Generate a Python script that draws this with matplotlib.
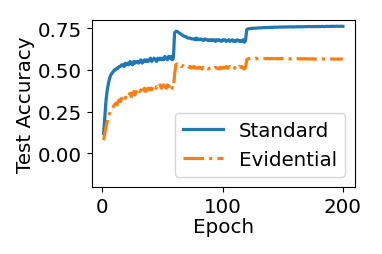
import matplotlib
matplotlib.use('Agg')
import matplotlib.pyplot as plt

epochs = list(range(1, 201))

# test accuracy of the standard model, one value per epoch
standard = [
    0.12, 0.22, 0.32, 0.38, 0.42, 0.45, 0.47, 0.48, 0.49, 0.50,
    0.50, 0.51, 0.51, 0.52, 0.52, 0.53, 0.53, 0.52, 0.54, 0.53,
    0.54, 0.53, 0.55, 0.54, 0.53, 0.55, 0.54, 0.55, 0.55, 0.54,
    0.55, 0.56, 0.54, 0.55, 0.56, 0.55, 0.56, 0.55, 0.56, 0.57,
    0.55, 0.56, 0.57, 0.56, 0.55, 0.57, 0.56, 0.57, 0.56, 0.57,
    0.56, 0.58, 0.57, 0.56, 0.58, 0.57, 0.58, 0.56, 0.57, 0.72,
    0.73, 0.73, 0.725, 0.72, 0.715, 0.71, 0.705, 0.70, 0.70, 0.695,
    0.69, 0.69, 0.69, 0.685, 0.685, 0.685, 0.68, 0.69, 0.68, 0.685,
    0.68, 0.685, 0.68, 0.675, 0.685, 0.68, 0.68, 0.675, 0.68, 0.675,
    0.68, 0.675, 0.68, 0.67, 0.68, 0.675, 0.68, 0.675, 0.67, 0.68,
    0.675, 0.68, 0.67, 0.675, 0.68, 0.67, 0.675, 0.68, 0.67, 0.675,
    0.67, 0.68, 0.675, 0.67, 0.675, 0.67, 0.68, 0.665, 0.675, 0.74,
    0.745, 0.746, 0.747, 0.748, 0.748, 0.749, 0.749, 0.750, 0.750, 0.751,
    0.751, 0.751, 0.752, 0.752, 0.752, 0.753, 0.753, 0.753, 0.754, 0.754,
    0.754, 0.754, 0.755, 0.755, 0.755, 0.755, 0.756, 0.755, 0.756, 0.756,
    0.756, 0.756, 0.757, 0.756, 0.757, 0.757, 0.757, 0.756, 0.757, 0.757,
    0.757, 0.758, 0.757, 0.758, 0.758, 0.757, 0.758, 0.758, 0.758, 0.758,
    0.758, 0.759, 0.758, 0.758, 0.759, 0.759, 0.758, 0.759, 0.759, 0.759,
    0.759, 0.759, 0.760, 0.759, 0.759, 0.760, 0.760, 0.759, 0.760, 0.760,
    0.760, 0.760, 0.760, 0.760, 0.761, 0.760, 0.760, 0.761, 0.760, 0.760,
]

# test accuracy of the evidential model
evidential = [
    0.08, 0.12, 0.16, 0.19, 0.22, 0.24, 0.26, 0.27, 0.28, 0.29,
    0.30, 0.29, 0.31, 0.32, 0.31, 0.33, 0.32, 0.34, 0.33, 0.35,
    0.34, 0.35, 0.36, 0.34, 0.36, 0.37, 0.35, 0.37, 0.36, 0.38,
    0.37, 0.38, 0.36, 0.38, 0.39, 0.37, 0.38, 0.39, 0.38, 0.39,
    0.38, 0.40, 0.39, 0.38, 0.40, 0.39, 0.40, 0.41, 0.39, 0.40,
    0.41, 0.40, 0.39, 0.41, 0.40, 0.42, 0.41, 0.39, 0.39, 0.47,
    0.53, 0.535, 0.53, 0.525, 0.53, 0.52, 0.525, 0.52, 0.52, 0.515,
    0.52, 0.515, 0.52, 0.51, 0.515, 0.52, 0.51, 0.515, 0.51, 0.51,
    0.515, 0.51, 0.505, 0.515, 0.51, 0.51, 0.515, 0.505, 0.51, 0.515,
    0.51, 0.505, 0.51, 0.515, 0.51, 0.51, 0.505, 0.515, 0.51, 0.51,
    0.515, 0.51, 0.52, 0.51, 0.515, 0.52, 0.51, 0.515, 0.52, 0.51,
    0.52, 0.515, 0.51, 0.52, 0.515, 0.52, 0.51, 0.505, 0.515, 0.56,
    0.565, 0.568, 0.567, 0.568, 0.566, 0.568, 0.567, 0.569, 0.566, 0.567,
    0.568, 0.566, 0.567, 0.568, 0.567, 0.566, 0.568, 0.567, 0.566, 0.567,
    0.568, 0.566, 0.567, 0.566, 0.568, 0.567, 0.566, 0.567, 0.566, 0.568,
    0.567, 0.566, 0.565, 0.567, 0.566, 0.567, 0.565, 0.566, 0.567, 0.566,
    0.565, 0.566, 0.567, 0.565, 0.566, 0.565, 0.566, 0.567, 0.565, 0.566,
    0.565, 0.566, 0.564, 0.566, 0.565, 0.566, 0.564, 0.565, 0.566, 0.565,
    0.564, 0.565, 0.566, 0.564, 0.565, 0.564, 0.565, 0.566, 0.564, 0.565,
    0.564, 0.565, 0.564, 0.565, 0.564, 0.565, 0.564, 0.564, 0.565, 0.564,
]

plt.rcParams['font.size'] = 14.3

fig = plt.figure(figsize=(3.82, 2.55), dpi=100)
ax = fig.add_axes([0.24, 0.263, 0.689, 0.656])
ax.plot(epochs, standard, color='C0', lw=2.3, label='Standard')
ax.plot(epochs, evidential, color='C1', lw=2.3, ls='-.', label='Evidential')
ax.set_ylim(-0.2, 0.8)
ax.set_yticks([0.0, 0.25, 0.5, 0.75])
ax.set_xticks([0, 100, 200])
ax.set_xlabel('Epoch', labelpad=1)
ax.set_ylabel('Test Accuracy', labelpad=2)
ax.legend(loc='lower right')
fig.savefig('out.png')
